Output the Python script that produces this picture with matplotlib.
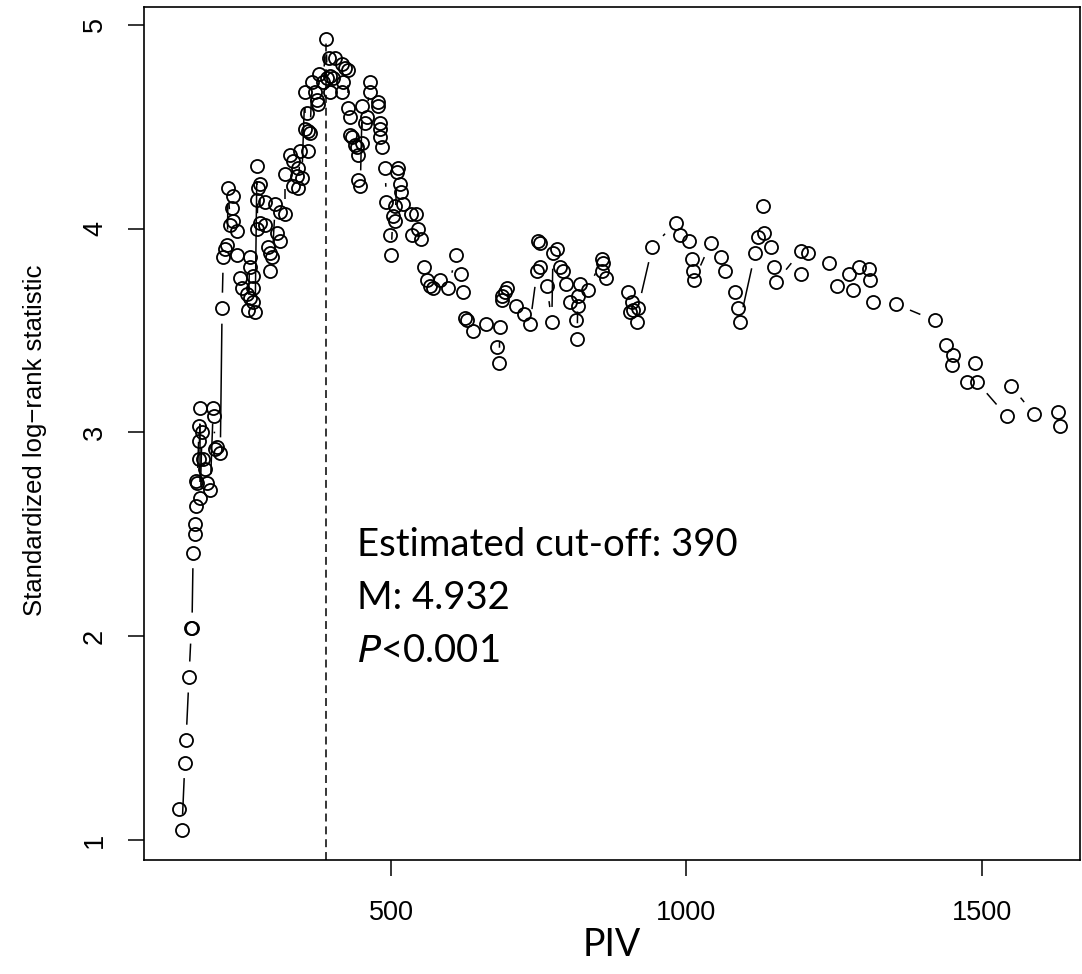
import matplotlib
matplotlib.use('Agg')
import matplotlib.pyplot as plt
import numpy as np

# cut-off values (PIV) and standardized log-rank statistics
piv = [141, 146, 151, 153, 158, 162, 163, 165, 168, 168, 170, 170, 172, 175, 175, 175,
       177, 177, 180, 182, 185, 189, 194, 199, 200, 202, 206, 211,
       214, 216, 219, 223, 224, 228, 231, 233, 233, 239, 239, 244, 248, 256, 258, 261,
       261, 261, 266, 266, 266, 270, 273, 273, 273, 275, 278, 278, 287, 287, 292, 295,
       295, 299, 304, 307, 312, 312, 321,
       321, 329, 334, 334, 341, 343, 343, 346, 349, 354, 354, 358, 360, 360, 363, 366,
       371, 375, 377, 378, 385, 390, 392, 395, 397, 397, 402, 405, 417, 417, 419, 422,
       427, 427, 431, 431, 434, 439, 442, 444, 444, 448, 451, 451, 456, 459, 464, 464,
       478, 478, 481, 481, 481, 485,
       490, 492, 498, 500, 503, 507, 507, 510, 512, 515, 517, 520, 534, 535, 542, 546,
       551, 556, 561, 566, 571, 583, 597, 610, 619, 622, 625, 628, 639, 661, 679, 683,
       684, 688, 688, 693, 697, 711, 725, 735,
       747, 748, 752, 752, 764, 772, 774, 781, 786, 791, 796, 803, 813, 815, 816, 816,
       820, 833, 857, 857, 859, 864, 901, 905, 908, 910, 916, 918, 942, 982, 989, 1004,
       1009, 1011, 1013, 1041, 1058, 1065, 1082, 1087, 1090, 1116, 1121, 1130, 1131,
       1143, 1148, 1152,
       1194, 1194, 1206, 1241, 1255, 1275, 1282, 1292, 1309, 1311, 1316, 1354, 1420,
       1440, 1449, 1451, 1475, 1488, 1491, 1542, 1549, 1588, 1628, 1632]
stat = [1.15, 1.05, 1.38, 1.49, 1.80, 2.04, 2.04, 2.41, 2.50, 2.55, 2.64, 2.76, 2.75, 3.03, 2.96, 2.87,
        3.12, 2.68, 3.00, 2.87, 2.82, 2.75, 2.72, 3.12, 3.08, 2.92, 2.93, 2.90,
        3.61, 3.86, 3.90, 3.92, 4.20, 4.02, 4.10, 4.16, 4.04, 3.99, 3.87, 3.76, 3.71, 3.68, 3.60, 3.86,
        3.81, 3.66, 3.77, 3.71, 3.64, 3.59, 4.31, 4.14, 4.00, 4.20, 4.22, 4.03, 4.13, 4.02, 3.91, 3.88,
        3.79, 3.86, 4.12, 3.98, 4.08, 3.94, 4.07,
        4.27, 4.36, 4.33, 4.21, 4.26, 4.30, 4.20, 4.38, 4.25, 4.67, 4.49, 4.57, 4.48, 4.38, 4.47, 4.72,
        4.67, 4.63, 4.61, 4.76, 4.72, 4.932, 4.74, 4.84, 4.75, 4.67, 4.74, 4.84, 4.81, 4.67, 4.72, 4.79,
        4.78, 4.59, 4.55, 4.46, 4.45, 4.41, 4.40, 4.36, 4.24, 4.21, 4.60, 4.42, 4.52, 4.55, 4.72, 4.67,
        4.62, 4.60, 4.52, 4.49, 4.45, 4.40,
        4.30, 4.13, 3.97, 3.87, 4.06, 4.11, 4.04, 4.28, 4.30, 4.22, 4.18, 4.12, 4.07, 3.97, 4.07, 4.00,
        3.95, 3.81, 3.75, 3.72, 3.71, 3.75, 3.71, 3.87, 3.78, 3.69, 3.56, 3.55, 3.50, 3.53, 3.42, 3.34,
        3.52, 3.67, 3.65, 3.69, 3.71, 3.62, 3.58, 3.53,
        3.79, 3.94, 3.93, 3.81, 3.72, 3.54, 3.88, 3.90, 3.81, 3.79, 3.73, 3.64, 3.55, 3.46, 3.67, 3.62,
        3.73, 3.70, 3.85, 3.79, 3.83, 3.76, 3.69, 3.59, 3.64, 3.60, 3.54, 3.61, 3.91, 4.03, 3.97, 3.94,
        3.85, 3.79, 3.75, 3.93, 3.86, 3.79, 3.69, 3.61, 3.54, 3.88, 3.96, 4.11, 3.98,
        3.91, 3.81, 3.74,
        3.89, 3.78, 3.88, 3.83, 3.72, 3.78, 3.70, 3.81, 3.80, 3.75, 3.64, 3.63, 3.55,
        3.43, 3.33, 3.38, 3.25, 3.34, 3.25, 3.08, 3.23, 3.09, 3.10, 3.03]

cutoff = 390
m_stat = 4.932
x_ticks = [500, 1000, 1500]
y_ticks = [1, 2, 3, 4, 5]

W, H = 1082, 974
fig = plt.figure(figsize=(W / 100, H / 100), dpi=100)
ax = fig.add_axes([143.5 / W, 1 - 860 / H, 936.5 / W, 853 / H])
ax.set_xlim(81, 1666)
ax.set_ylim(0.902, 5.088)

order = np.argsort(piv, kind='stable')
x = np.asarray(piv, float)[order]
y = np.asarray(stat, float)[order]

# R type="b": segments between points, cut short near each circle
gap = 15.5
pts = ax.transData.transform(np.column_stack([x, y]))
inv = ax.transData.inverted()
for p1, p2 in zip(pts[:-1], pts[1:]):
    d = np.hypot(*(p2 - p1))
    if d <= 2 * gap:
        continue
    u = (p2 - p1) / d
    seg = inv.transform(np.array([p1 + u * gap, p2 - u * gap]))
    ax.plot(seg[:, 0], seg[:, 1], color='black', lw=1.1, solid_capstyle='butt')

ax.plot(x, y, 'o', ms=9.4, mfc='none', mec='black', mew=1.3, ls='none')

# estimated cut-off
ax.plot([cutoff, cutoff], [0.902, m_stat], color='black', lw=1.1, dashes=(5.2, 3.2))

ann_font = 'Lato'
ax.text(442, 2.45, 'Estimated cut-off: %d' % cutoff, fontsize=27.6, family=ann_font, va='center', ha='left')
ax.text(442, 2.19, 'M: %.3f' % m_stat, fontsize=27.6, family=ann_font, va='center', ha='left')
ax.text(442, 1.93, r'$\it{P}$<0.001', fontsize=27.6, family=ann_font, va='center', ha='left')

ax.set_xticks(x_ticks)
ax.set_yticks(y_ticks)
ax.tick_params(direction='out', length=11.5, width=1.1, labelsize=19.5)
ax.tick_params(axis='x', pad=17)
ax.tick_params(axis='y', pad=14)
for lab in ax.get_xticklabels() + ax.get_yticklabels():
    lab.set_family('Liberation Sans')
for lab in ax.get_yticklabels():
    lab.set_rotation(90)
    lab.set_va('center')
for s in ax.spines.values():
    s.set_linewidth(1.2)

ax.set_ylabel('Standardized log\u2212rank statistic', fontsize=18.5, family='Liberation Sans')
ax.yaxis.set_label_coords(35 / W, (974 - 440) / H, transform=fig.transFigure)
ax.yaxis.label.set_va('center')
ax.set_xlabel('PIV', fontsize=27, family=ann_font)
ax.xaxis.set_label_coords(612 / W, 1 - 945 / H, transform=fig.transFigure)
ax.xaxis.label.set_va('center')

fig.savefig('out.png', dpi=100)
